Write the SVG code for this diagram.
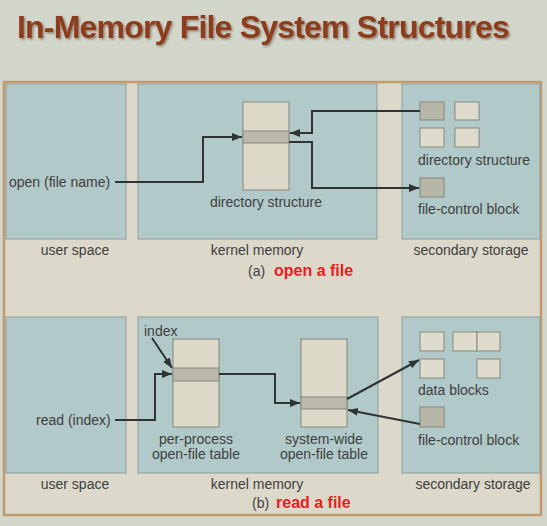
<svg xmlns="http://www.w3.org/2000/svg" width="547" height="526" viewBox="0 0 547 526">
<defs>
<style>
.t{font-family:"Liberation Sans",Arial,sans-serif;font-size:14px;fill:#3e4040}
.tc{text-anchor:middle}
.red{font-family:"Liberation Sans",Arial,sans-serif;font-size:16px;font-weight:bold;fill:#e8201c}
.panel{fill:#b1c9c9;stroke:#8d9d9b;stroke-width:1}
.tab{fill:#ddd9c9;stroke:#85877f;stroke-width:1}
.row{fill:#bab9aa;stroke:#85877f;stroke-width:1}
.blk{fill:#e0dccd;stroke:#85877f;stroke-width:1}
.gblk{fill:#b7b7a7;stroke:#85877f;stroke-width:1}
.ln{fill:none;stroke:#2f3333;stroke-width:2}
</style>
<marker id="ah" viewBox="0 0 10 10" refX="10" refY="5" markerWidth="5" markerHeight="5" orient="auto" markerUnits="strokeWidth">
<path d="M0,1 L10,5 L0,9 Z" fill="#2f3333"/>
</marker>
<filter id="sh" x="-5%" y="-20%" width="110%" height="150%">
<feDropShadow dx="1.5" dy="1.5" stdDeviation="0.8" flood-color="#5a4a3a" flood-opacity="0.6"/>
</filter>
</defs>
<rect width="547" height="526" fill="#d3d7cb"/>
<text x="17" y="38" font-family="Liberation Sans,Arial,sans-serif" font-weight="bold" font-size="32" letter-spacing="-0.8" fill="#8e3c1c" filter="url(#sh)">In-Memory File System Structures</text>

<rect id="frame" x="4" y="82" width="537" height="433" fill="#dcd8ca" stroke="#c49a6c" stroke-width="2.5"/>

<g id="a-user-space">
<rect class="panel" x="6" y="84" width="120" height="155"/>
<text class="t tc" x="75" y="255">user space</text>
</g>
<g id="a-kernel-memory">
<rect class="panel" x="138" y="84" width="239" height="155"/>
<text class="t tc" x="257" y="255">kernel memory</text>
</g>
<g id="a-secondary-storage">
<rect class="panel" x="402" y="84" width="138" height="155"/>
<text class="t tc" x="471" y="255">secondary storage</text>
</g>
<g id="a-open-call">
<text class="t" x="9" y="187">open (file name)</text>
</g>
<g id="a-directory-structure-mem">
<rect class="tab" x="243" y="102" width="46" height="88"/>
<rect class="row" x="243" y="131" width="46" height="12"/>
<text class="t tc" x="266" y="207">directory structure</text>
</g>
<g id="a-directory-structure-disk">
<rect class="gblk" x="420" y="102" width="24" height="18"/>
<rect class="blk" x="455" y="102" width="24" height="18"/>
<rect class="blk" x="420" y="128" width="24" height="19"/>
<rect class="blk" x="455" y="128" width="24" height="19"/>
<text class="t" x="418" y="165">directory structure</text>
</g>
<g id="a-fcb">
<rect class="gblk" x="420" y="178" width="24" height="19"/>
<text class="t" x="418" y="214">file-control block</text>
</g>
<g id="a-caption">
<text class="t" x="248" y="276">(a)</text>
<text class="red" x="274" y="276">open a file</text>
</g>

<g id="b-user-space">
<rect class="panel" x="6" y="317" width="120" height="156"/>
<text class="t tc" x="75" y="489">user space</text>
</g>
<g id="b-kernel-memory">
<rect class="panel" x="138" y="317" width="240" height="156"/>
<text class="t tc" x="257" y="489">kernel memory</text>
</g>
<g id="b-secondary-storage">
<rect class="panel" x="402" y="317" width="138" height="156"/>
<text class="t tc" x="473" y="489">secondary storage</text>
</g>
<g id="b-read-call">
<text class="t" x="36" y="425">read (index)</text>
</g>
<g id="b-index-label">
<text class="t" x="144" y="336">index</text>
</g>
<g id="b-per-process-table">
<rect class="tab" x="173" y="339" width="46" height="88"/>
<rect class="row" x="173" y="368" width="46" height="13"/>
<text class="t tc" x="196" y="444">per-process</text>
<text class="t tc" x="196" y="459">open-file table</text>
</g>
<g id="b-system-wide-table">
<rect class="tab" x="301" y="339" width="46" height="88"/>
<rect class="row" x="301" y="397" width="46" height="12"/>
<text class="t tc" x="324" y="444">system-wide</text>
<text class="t tc" x="324" y="459">open-file table</text>
</g>
<g id="b-data-blocks">
<rect class="blk" x="420" y="332" width="24" height="19"/>
<rect class="blk" x="453" y="332" width="24" height="19"/>
<rect class="blk" x="477" y="332" width="23" height="19"/>
<rect class="blk" x="420" y="359" width="24" height="19"/>
<rect class="blk" x="477" y="359" width="23" height="19"/>
<text class="t" x="418" y="395">data blocks</text>
</g>
<g id="b-fcb">
<rect class="gblk" x="420" y="407" width="24" height="20"/>
<text class="t" x="418" y="445">file-control block</text>
</g>
<g id="b-caption">
<text class="t" x="252" y="508">(b)</text>
<text class="red" x="276" y="508">read a file</text>
</g>

<g id="connectors">
<polyline class="ln" points="115,182 203,182 203,137 242,137" marker-end="url(#ah)"/>
<polyline class="ln" points="420,111 312,111 312,133 290,133" marker-end="url(#ah)"/>
<polyline class="ln" points="289,142 312,142 312,188 419,188" marker-end="url(#ah)"/>
<line class="ln" x1="152" y1="338" x2="172" y2="368" marker-end="url(#ah)"/>
<polyline class="ln" points="115,420 155,420 155,374 172,374" marker-end="url(#ah)"/>
<polyline class="ln" points="219,374 275,374 275,403 300,403" marker-end="url(#ah)"/>
<line class="ln" x1="347" y1="399" x2="419" y2="360" marker-end="url(#ah)"/>
<line class="ln" x1="420" y1="424" x2="348" y2="410" marker-end="url(#ah)"/>
</g>
</svg>
